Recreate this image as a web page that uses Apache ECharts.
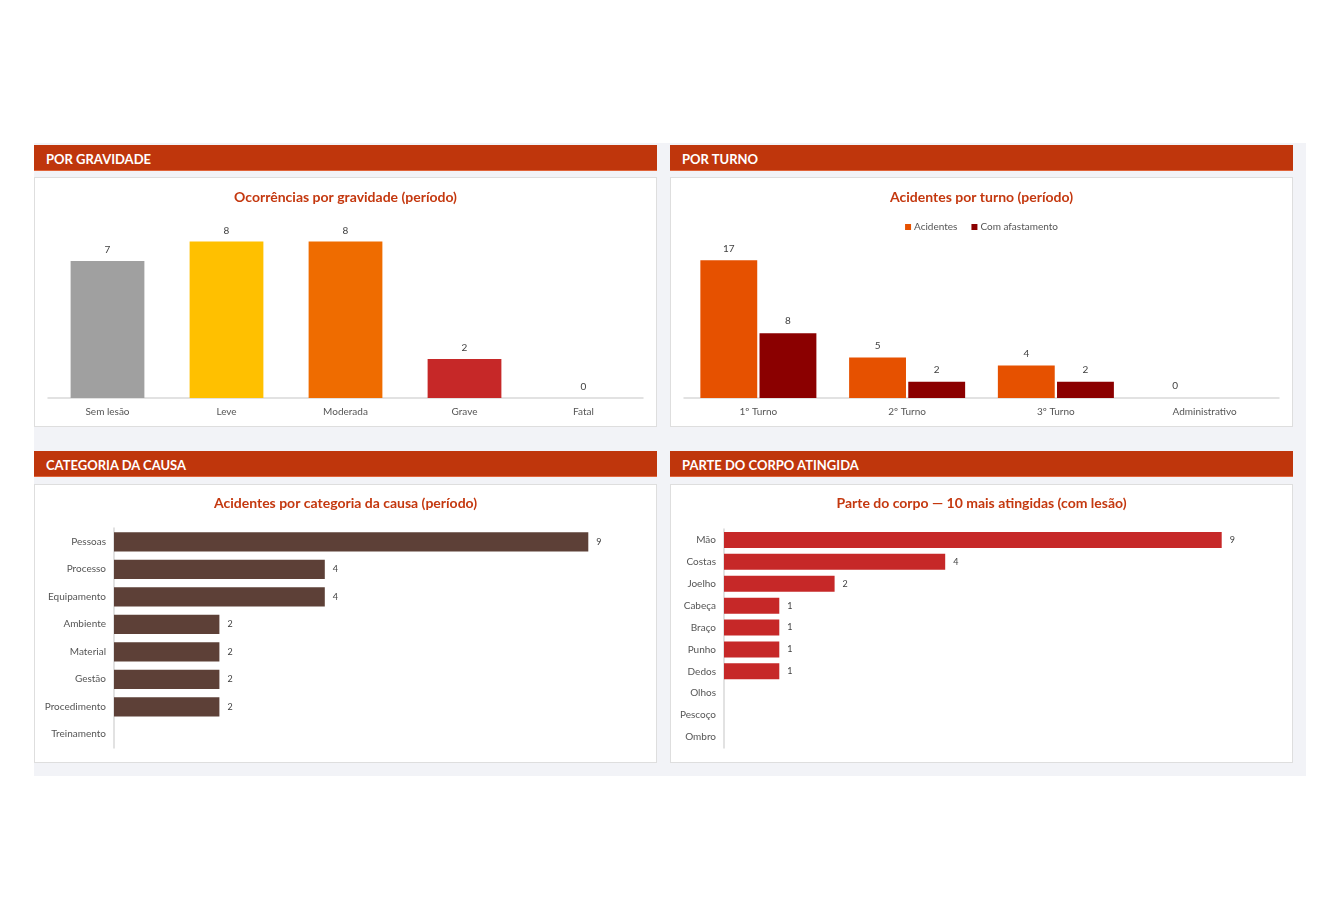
<!DOCTYPE html>
<html>
<head>
<meta charset="utf-8">
<script src="https://cdn.jsdelivr.net/npm/echarts@6/dist/echarts.min.js"></script>
<style>
  html, body { margin:0; padding:0; background:#ffffff; width:1340px; height:921px; overflow:hidden; font-family:Lato, "Liberation Sans", sans-serif; }
  #dash { position:absolute; left:34px; top:143px; width:1272px; height:633px; background:#f2f3f7; }
  .hdr { position:absolute; height:26px; width:623px; background:#bf360c; color:#fff; font-weight:bold; font-size:13px; line-height:28px; box-sizing:border-box; padding-left:12px; border-bottom:1px solid #e0643a; }
  .box { position:absolute; width:623px; background:#fff; border:1px solid #dedede; box-sizing:border-box; }
  .box > div { position:absolute; left:0; top:0; right:0; bottom:0; }
</style>
</head>
<body>
<div id="dash"></div>
<div class="hdr" style="left:34px;top:145px;">POR GRAVIDADE</div>
<div class="hdr" style="left:670px;top:145px;">POR TURNO</div>
<div class="hdr" style="left:34px;top:451px;">CATEGORIA DA CAUSA</div>
<div class="hdr" style="left:670px;top:451px;">PARTE DO CORPO ATINGIDA</div>
<div class="box" style="left:34px;top:177px;height:250px;"><div id="c1"></div></div>
<div class="box" style="left:670px;top:177px;height:250px;"><div id="c2"></div></div>
<div class="box" style="left:34px;top:484px;height:279px;"><div id="c3"></div></div>
<div class="box" style="left:670px;top:484px;height:279px;"><div id="c4"></div></div>
<script>
// ---- Data ----
const severityCategories = ['Sem lesão', 'Leve', 'Moderada', 'Grave', 'Fatal'];
const severityValues = [7, 8, 8, 2, 0];
const severityColors = ['#a0a0a0', '#ffc000', '#ef6c00', '#c62828', '#c62828'];

const shiftCategories = ['1º Turno', '2º Turno', '3º Turno', 'Administrativo'];
const shiftAccidents = [17, 5, 4, 0];
const shiftLeave = [8, 2, 2, null];

const causeCategories = ['Pessoas', 'Processo', 'Equipamento', 'Ambiente', 'Material', 'Gestão', 'Procedimento', 'Treinamento'];
const causeValues = [9, 4, 4, 2, 2, 2, 2, 0];

const bodyCategories = ['Mão', 'Costas', 'Joelho', 'Cabeça', 'Braço', 'Punho', 'Dedos', 'Olhos', 'Pescoço', 'Ombro'];
const bodyValues = [9, 4, 2, 1, 1, 1, 1, 0, 0, 0];

// ---- Styles ----
const FONT = 'Lato, "Liberation Sans", sans-serif';
const TITLE_COLOR = '#c4380f';
const LABEL_COLOR = '#555555';
const VALUE_COLOR = '#404040';
const AXIS_COLOR = '#d9d9d9';

function titleOpt(text, top) {
  return { text, left: 'center', top, textStyle: { color: TITLE_COLOR, fontSize: 14, fontWeight: 'bold', fontFamily: FONT } };
}

// Chart 1
const c1 = echarts.init(document.getElementById('c1'));
c1.setOption({
  animation: false,
  title: titleOpt('Ocorrências por gravidade (período)', 7),
  grid: { left: 13, right: 13, top: 44, bottom: 28 },
  xAxis: { type: 'category', data: severityCategories,
    axisLine: { lineStyle: { color: AXIS_COLOR, width: 1.5 } }, axisTick: { show: false },
    axisLabel: { color: LABEL_COLOR, fontSize: 10, fontFamily: FONT, margin: 9 } },
  yAxis: { type: 'value', min: 0, max: 9, show: false, splitLine: { show: false } },
  series: [{
    type: 'bar', barCategoryGap: '38%',
    data: severityValues.map((v, i) => ({ value: v, itemStyle: { color: severityColors[i] } })),
    label: { show: true, position: 'top', distance: 6, color: VALUE_COLOR, fontSize: 10, fontFamily: FONT }
  }]
});

// Chart 2
const c2 = echarts.init(document.getElementById('c2'));
c2.setOption({
  animation: false,
  title: titleOpt('Acidentes por turno (período)', 7),
  legend: { top: 39, left: 'center', itemWidth: 6, itemHeight: 6, itemGap: 14, icon: 'rect',
    textStyle: { color: LABEL_COLOR, fontSize: 10, fontFamily: FONT, padding: [0, 0, 0, -2] } },
  grid: { left: 13, right: 13, top: 58, bottom: 28 },
  xAxis: { type: 'category', data: shiftCategories,
    axisLine: { lineStyle: { color: AXIS_COLOR, width: 1.5 } }, axisTick: { show: false },
    axisLabel: { color: LABEL_COLOR, fontSize: 10, fontFamily: FONT, margin: 9 } },
  yAxis: { type: 'value', min: 0, max: 20, show: false, splitLine: { show: false } },
  series: [
    { name: 'Acidentes', type: 'bar', data: shiftAccidents, itemStyle: { color: '#e65100' },
      barGap: '4%', barCategoryGap: '22%',
      label: { show: true, position: 'top', distance: 7, color: VALUE_COLOR, fontSize: 10, fontFamily: FONT } },
    { name: 'Com afastamento', type: 'bar', data: shiftLeave, itemStyle: { color: '#8b0000' },
      barGap: '4%', barCategoryGap: '22%',
      label: { show: true, position: 'top', distance: 7, color: VALUE_COLOR, fontSize: 10, fontFamily: FONT } }
  ]
});

function hbar(el, titleText, cats, vals, color, left, top, gap) {
  const c = echarts.init(document.getElementById(el));
  c.setOption({
    animation: false,
    title: titleOpt(titleText, 6),
    grid: { left, right: 15, top, bottom: 14 },
    xAxis: { type: 'value', min: 0, max: 10, show: false, splitLine: { show: false } },
    yAxis: { type: 'category', data: cats, inverse: true,
      axisLine: { lineStyle: { color: AXIS_COLOR, width: 1.5 } }, axisTick: { show: false },
      axisLabel: { color: LABEL_COLOR, fontSize: 10, fontFamily: FONT, margin: 8 } },
    series: [{ type: 'bar', data: vals, itemStyle: { color }, barCategoryGap: gap,
      label: { show: true, position: 'right', distance: 8, color: VALUE_COLOR, fontSize: 9, fontFamily: FONT,
        formatter: p => (p.value ? String(p.value) : '') } }]
  });
}
hbar('c3', 'Acidentes por categoria da causa (período)', causeCategories, causeValues, '#5d4037', 79, 43, '30%');
hbar('c4', 'Parte do corpo — 10 mais atingidas (com lesão)', bodyCategories, bodyValues, '#c62828', 53, 44, '27%');
</script>
</body>
</html>
